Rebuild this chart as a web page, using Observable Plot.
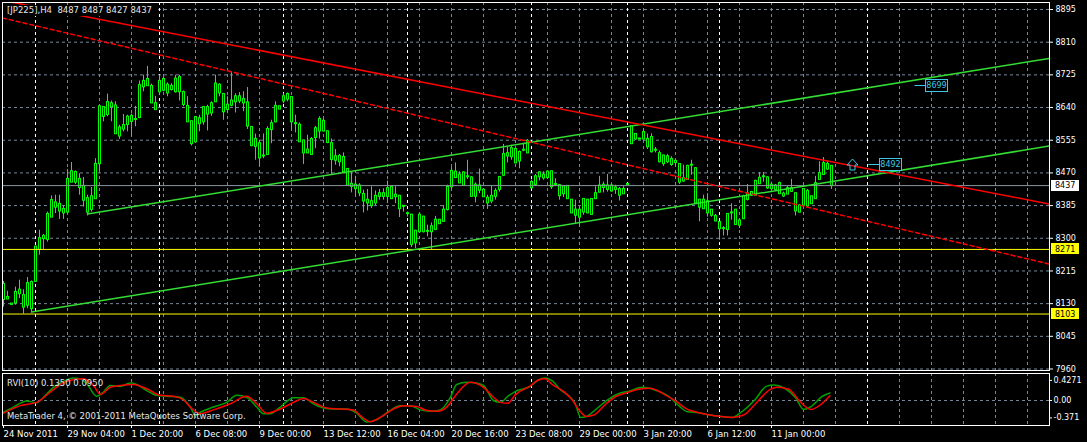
<!DOCTYPE html>
<html><head><meta charset="utf-8">
<script src="https://cdn.jsdelivr.net/npm/d3@7"></script>
<script src="https://cdn.jsdelivr.net/npm/@observablehq/plot@0.6"></script>
<style>
html,body{margin:0;padding:0;background:#000;}
#wrap{position:relative;width:1087px;height:442px;background:#000;overflow:hidden;font-family:"DejaVu Sans",sans-serif;}
#main{position:absolute;left:0;top:0;}
#sub{position:absolute;left:0;top:371px;}
.txt{position:absolute;color:#e6e6e6;font-size:8.5px;line-height:11px;white-space:pre;font-family:"DejaVu Sans",sans-serif;}
#title{left:3px;top:5px;height:11px;padding:0 3px 0 4px;background:#000;}
#rvi{left:7px;top:378px;}
#copy{left:7px;top:411px;}
</style></head>
<body><div id="wrap">
<div id="main"></div><div id="sub"></div>
<div id="title" class="txt"></div><div id="rvi" class="txt"></div><div id="copy" class="txt"></div>
</div>
<script>
// ---- data ----
const symbolTitle = "[JP225],H4  8487 8487 8427 8437";
const rviTitle = "RVI(10) 0.1350 0.0950";
const copyright = "MetaTrader 4, \u00A9 2001-2011 MetaQuotes Software Corp.";

const open = [
8180,8146,8129,8132,8156,8151,8126,8117,8188,8271,
8299,8297,8355,8392,8388,8375,8368,8446,8471,8453,
8435,8403,8375,8403,8494,8640,8622,8650,8644,8566,
8584,8596,8617,8609,8614,8694,8697,8695,8650,8681,
8685,8698,8687,8681,8718,8679,8643,8603,8551,8611,
8603,8640,8626,8655,8698,8674,8635,8646,8655,8668,
8652,8652,8588,8539,8546,8514,8518,8583,8603,8642,
8657,8662,8666,8598,8594,8553,8522,8518,8562,8579,
8604,8577,8546,8503,8513,8510,8479,8440,8438,8436,
8414,8399,8395,8392,8409,8416,8409,8432,8408,8409,
8383,8364,8360,8288,8317,8355,8318,8317,8323,8347,
8344,8375,8434,8472,8464,8438,8460,8457,8409,8436,
8425,8404,8397,8409,8427,8464,8514,8533,8496,8523,
8529,8522,8445,8440,8460,8464,8458,8473,8440,8437,
8416,8435,8399,8360,8373,8368,8399,8362,8403,8420,
8438,8427,8436,8427,8427,8416,8440,8546,8570,8558,
8558,8557,8562,8529,8520,8514,8499,8505,8500,8492,
8449,8453,8490,8481,8399,8377,8395,8373,8357,8341,
8325,8323,8366,8373,8334,8351,8415,8412,8412,8442,
8460,8457,8429,8436,8416,8415,8415,8429,8416,8368,
8386,8422,8390,8403,8453,8466,8492,8487];
const high = [
8188,8162,8130,8173,8191,8166,8198,8189,8279,8321,
8310,8368,8410,8412,8412,8385,8479,8497,8475,8468,
8458,8412,8432,8507,8643,8642,8675,8657,8655,8594,
8622,8620,8623,8643,8709,8724,8747,8701,8669,8724,
8720,8704,8702,8724,8724,8683,8668,8605,8616,8620,
8643,8646,8655,8724,8702,8676,8668,8733,8676,8679,
8681,8692,8590,8571,8555,8571,8590,8607,8655,8643,
8676,8678,8668,8620,8600,8553,8568,8562,8591,8616,
8611,8579,8558,8531,8518,8522,8481,8473,8461,8442,
8425,8427,8434,8423,8427,8429,8449,8434,8434,8412,
8384,8368,8362,8321,8362,8357,8334,8340,8357,8349,
8385,8438,8484,8496,8473,8473,8503,8460,8444,8480,
8427,8412,8435,8429,8460,8544,8536,8542,8533,8527,
8544,8557,8451,8466,8473,8473,8473,8473,8455,8440,
8435,8437,8401,8399,8381,8402,8401,8402,8434,8461,
8446,8466,8440,8438,8432,8434,8442,8591,8572,8560,
8585,8571,8572,8536,8527,8516,8518,8512,8503,8494,
8490,8490,8503,8484,8401,8412,8416,8375,8362,8343,
8330,8364,8390,8375,8351,8412,8440,8422,8451,8471,
8471,8460,8446,8440,8446,8420,8435,8453,8418,8388,
8429,8427,8409,8461,8499,8510,8499,8487];
const low = [
8121,8141,8127,8126,8143,8103,8117,8107,8186,8256,
8271,8290,8355,8364,8349,8349,8368,8446,8440,8412,
8381,8358,8368,8403,8474,8603,8616,8603,8571,8557,
8577,8577,8564,8590,8611,8681,8695,8652,8635,8672,
8681,8668,8683,8678,8657,8642,8603,8540,8549,8577,
8594,8579,8617,8655,8668,8607,8624,8642,8626,8650,
8629,8583,8538,8503,8487,8507,8516,8546,8600,8635,
8650,8655,8579,8574,8549,8492,8520,8516,8533,8558,
8577,8546,8466,8490,8486,8468,8436,8418,8408,8408,
8366,8371,8377,8384,8399,8399,8390,8401,8390,8354,
8368,8355,8276,8273,8314,8314,8304,8271,8321,8336,
8343,8371,8425,8455,8442,8435,8453,8408,8392,8416,
8406,8375,8390,8399,8420,8461,8496,8503,8494,8481,
8525,8520,8429,8435,8449,8451,8453,8427,8435,8399,
8406,8401,8364,8338,8330,8360,8364,8360,8401,8418,
8418,8420,8420,8414,8397,8414,8438,8545,8555,8557,
8555,8531,8522,8522,8496,8487,8494,8487,8486,8440,
8446,8451,8464,8390,8343,8375,8355,8355,8343,8295,
8306,8306,8347,8334,8325,8349,8397,8409,8409,8440,
8446,8427,8425,8425,8414,8406,8414,8420,8358,8366,
8381,8381,8388,8401,8451,8464,8477,8427];
const close = [
8141,8142,8128,8159,8165,8121,8182,8185,8277,8299,
8305,8362,8398,8381,8371,8366,8453,8473,8446,8432,
8399,8368,8408,8492,8642,8617,8653,8642,8572,8587,
8593,8615,8604,8609,8697,8708,8713,8652,8635,8708,
8713,8678,8695,8714,8681,8648,8603,8546,8614,8598,
8640,8623,8650,8701,8678,8629,8646,8657,8668,8657,
8661,8592,8541,8557,8509,8514,8583,8598,8643,8636,
8668,8674,8603,8598,8551,8522,8529,8557,8585,8609,
8579,8549,8505,8512,8499,8473,8438,8435,8429,8418,
8397,8392,8385,8409,8416,8409,8429,8403,8412,8377,
8383,8364,8284,8318,8360,8317,8318,8330,8347,8338,
8373,8432,8474,8458,8444,8470,8460,8409,8438,8425,
8408,8392,8409,8422,8458,8518,8520,8512,8531,8501,
8529,8552,8431,8460,8470,8457,8472,8434,8440,8411,
8434,8403,8366,8373,8355,8401,8366,8401,8416,8436,
8432,8436,8423,8431,8412,8427,8440,8590,8558,8558,
8575,8538,8525,8529,8499,8494,8512,8492,8497,8446,
8455,8487,8490,8392,8381,8399,8366,8360,8345,8325,
8325,8362,8366,8336,8345,8408,8401,8419,8448,8456,
8460,8431,8438,8427,8442,8410,8429,8422,8371,8384,
8427,8384,8408,8442,8468,8494,8480,8437];

const priceTicks = [8895,8810,8725,8640,8555,8470,8385,8300,8215,8130,8045,7960];
const dateBars = [0,16,32,48,64,80,96,112,128,144,160,176,192];
const dateLabels = ["24 Nov 2011","29 Nov 04:00","1 Dec 20:00","6 Dec 08:00","9 Dec 00:00","13 Dec 12:00","16 Dec 04:00","20 Dec 16:00","23 Dec 08:00","29 Dec 00:00","3 Jan 20:00","6 Jan 12:00","11 Jan 00:00"];
const gridBars = d3.range(8, 262, 8);
const separatorBars = [8,39,70,101,132,156,179,216];

const bidPrice = 8437;
const levelPrices = [8271, 8103];

// trend lines: [bar, price] anchors
const redSolid = [[0,8918],[261.5,8389]];
const redDashed = [[-0.25,8873],[261.5,8233]];
const greenUpper = [[21,8363],[261.5,8768]];
const greenLower = [[7,8108],[261.5,8540]];

// price label objects
const priceLabels = [{bar:216, price:8492, text:"8492"},{bar:227.5, price:8699, text:"8699"}];
const arrowMark = {bar:212, price:8492};

// RVI(10) main (green) and signal (red)
const rviGreen = [[0,-0.25],[2.5,-0.14],[5.8,-0.01],[8.3,-0.05],[10,0.07],[12.5,0.28],[15,0.41],[17.5,0.48],[19.2,0.46],[20.8,0.36],[23.3,0.09],[25,0.18],[26.7,0.32],[29.2,0.30],[31.7,0.37],[33.3,0.34],[35.8,0.21],[38.3,0.11],[40.8,0.09],[44.2,0.07],[46.7,-0.14],[48,-0.32],[49.2,-0.25],[52.5,-0.14],[55.8,-0.04],[58.3,0.11],[60.8,0.07],[63.3,-0.14],[65,-0.28],[66.7,-0.28],[69.2,-0.14],[72.5,0.06],[75,0.06],[77.5,-0.07],[80,-0.16],[82.5,-0.18],[85.8,-0.18],[88.3,-0.27],[90.8,-0.46],[93.3,-0.41],[96.7,-0.21],[99.2,-0.11],[101.7,-0.11],[104.2,-0.20],[106.7,-0.23],[109.2,-0.20],[111.7,0.06],[113.3,0.34],[115.8,0.39],[118.3,0.37],[120,0.32],[122.5,0.00],[124.2,-0.04],[126.1,0.09],[127.9,0.19],[131.7,0.30],[133.6,0.43],[135.4,0.48],[137.3,0.41],[139.2,0.23],[141,0.12],[142.9,-0.06],[144.3,-0.36],[145.7,-0.34],[148.5,-0.16],[151.3,0.03],[154.2,0.16],[156,0.19],[159.8,0.28],[162.6,0.23],[166.3,0.09],[169.1,-0.13],[171,-0.24],[173.8,-0.26],[176.6,-0.31],[179.4,-0.34],[182.2,-0.36],[184.1,-0.27],[187.8,0.01],[190.7,0.30],[192.5,0.33],[195.3,0.26],[198.1,0.05],[200,-0.19],[201.9,-0.13],[204.7,0.09],[206.6,0.16]];
const rviRed = [[0,-0.27],[4.2,-0.11],[8.3,-0.04],[11.7,0.18],[15.8,0.41],[20,0.46],[22.5,0.32],[24.2,0.13],[26.7,0.28],[29.2,0.32],[32.5,0.34],[35.8,0.25],[39.2,0.11],[42.5,0.09],[45,0.01],[46.7,-0.14],[49.2,-0.28],[52.5,-0.20],[56.7,-0.07],[60.8,0.09],[63.3,-0.07],[65.8,-0.27],[69.2,-0.18],[72.5,-0.04],[75,0.04],[77.5,-0.04],[80.8,-0.16],[84.2,-0.18],[87.5,-0.20],[89.2,-0.32],[91.7,-0.45],[94.2,-0.36],[97.5,-0.18],[100,-0.11],[103.3,-0.13],[105.8,-0.21],[108.3,-0.23],[110.8,-0.14],[113.3,0.14],[116.7,0.39],[120,0.28],[122.5,0.07],[124.2,-0.04],[126.1,-0.06],[127.9,0.12],[131.7,0.31],[133.6,0.43],[135.4,0.46],[137.3,0.33],[140.1,0.19],[142,0.03],[143.9,-0.20],[145.7,-0.34],[147.6,-0.31],[150.4,-0.09],[153.2,0.09],[156,0.17],[158.8,0.24],[161.6,0.26],[165.4,0.12],[168.2,-0.02],[171,-0.19],[172.9,-0.24],[176.6,-0.31],[179.4,-0.34],[182.2,-0.36],[185,-0.31],[187.8,-0.09],[191.6,0.23],[193.5,0.28],[196.3,0.24],[199.1,-0.02],[201.9,-0.19],[204.7,-0.06],[206.6,0.10]];
const rviTicks = [0.4271, 0, -0.371];
const rviTickLabels = ["0.4271", "0.00", "-0.371"];

// ---- drawing ----
const GRID = "#778899", CANDLE = "#00ff00", CH = "#33dd33", CYAN = "#3cc8e6";
const FONT = "DejaVu Sans";
const candles = open.map((o, i) => ({i, open: o, high: high[i], low: low[i], close: close[i]}));
const xDomain = [-0.25, 261.5];

const main = Plot.plot({
  width: 1087, height: 373,
  marginLeft: 2, marginRight: 38, marginTop: 2, marginBottom: 3,
  style: {background: "#000", color: "#fff", fontFamily: FONT, fontSize: "8px"},
  x: {domain: xDomain, axis: null},
  y: {domain: [7956.1, 8913.2]},
  marks: [
    Plot.ruleY(priceTicks, {stroke: GRID, strokeDasharray: "3,3"}),
    Plot.ruleX(gridBars, {stroke: GRID, strokeDasharray: "3,3"}),
    Plot.ruleX(separatorBars, {stroke: "#fff", strokeDasharray: "3,3"}),
    Plot.ruleX(candles, {x: "i", y1: "low", y2: "high", stroke: CANDLE}),
    // body outline (3px wide, lime) and 1px black centre
    Plot.rect(candles, {x1: d => d.i - 0.25, x2: d => d.i + 0.5, y1: "open", y2: "close",
      fill: CANDLE, insetTop: -1, insetBottom: -1}),
    Plot.rect(candles, {x1: d => d.i, x2: d => d.i + 0.25, y1: "open", y2: "close",
      fill: "#000", insetTop: 0, insetBottom: 0}),
    Plot.ruleY([bidPrice], {stroke: "#8a949e"}),
    Plot.ruleY(levelPrices, {stroke: "#ffff00"}),
    Plot.line(greenUpper, {x: d => d[0], y: d => d[1], stroke: CH, clip: true}),
    Plot.line(greenLower, {x: d => d[0], y: d => d[1], stroke: CH, clip: true}),
    Plot.line(redSolid, {x: d => d[0], y: d => d[1], stroke: "#ff0000", clip: true}),
    Plot.line(redDashed, {x: d => d[0], y: d => d[1], stroke: "#ff0000", strokeDasharray: "4,3", clip: true}),
    Plot.axisY(priceTicks, {anchor: "right", tickSize: 3, tickPadding: 3, tickFormat: d => String(d), label: null}),
    Plot.frame({stroke: "#fff"})
  ]
});
document.getElementById("main").appendChild(main);

// value boxes on the price axis and price-label objects
{
  const svg = d3.select(main);
  const xs = main.scale("x"), ys = main.scale("y");
  const yp = p => ys.apply(p) + 0.5;
  const xp = b => xs.apply(b) + 0.5;
  const boxes = [{p: bidPrice, c: "#fff"}, ...levelPrices.map(p => ({p, c: "#ffff00"}))];
  const g = svg.append("g").attr("font-family", FONT).attr("font-size", 8).attr("text-anchor", "start");
  boxes.forEach(b => {
    g.append("rect").attr("x", 1051).attr("y", Math.round(yp(b.p)) - 6).attr("width", 28).attr("height", 11).attr("fill", b.c);
    g.append("text").attr("x", 1055).attr("y", yp(b.p)).attr("dy", "0.35em").attr("text-anchor", "start").attr("fill", "#000").text(b.p);
  });
  priceLabels.forEach(l => {
    const x0 = Math.round(xp(l.bar)) + 0.5, y0 = Math.round(yp(l.price)) + 0.5;
    g.append("line").attr("x1", x0).attr("x2", x0 + 11).attr("y1", y0).attr("y2", y0).attr("stroke", CYAN);
    g.append("rect").attr("x", x0 + 11).attr("y", y0 - 6).attr("width", 22).attr("height", 12).attr("fill", "#000").attr("stroke", CYAN);
    g.append("text").attr("x", x0 + 22).attr("y", y0).attr("dy", "0.35em").attr("text-anchor", "middle").attr("fill", CYAN).text(l.text);
  });
  const ax = Math.round(xp(arrowMark.bar)) + 0.5, ay = Math.round(yp(arrowMark.price)) + 0.5;
  g.append("path").attr("transform", `translate(${ax},${ay})`)
    .attr("d", "M0,-5.5L5.5,0.5L2.5,0.5L2.5,5.5L-2.5,5.5L-2.5,0.5L-5.5,0.5Z")
    .attr("fill", "none").attr("stroke", CYAN);
}

const sub = Plot.plot({
  width: 1087, height: 71,
  marginLeft: 2, marginRight: 38, marginTop: 2, marginBottom: 17,
  style: {background: "transparent", color: "#fff", fontFamily: FONT, fontSize: "8px"},
  x: {domain: xDomain},
  y: {domain: [-0.532, 0.574]},
  marks: [
    Plot.ruleX(gridBars, {stroke: GRID, strokeDasharray: "3,3"}),
    Plot.ruleX(separatorBars, {stroke: "#fff", strokeDasharray: "3,3"}),
    Plot.ruleY([0], {stroke: GRID, strokeDasharray: "3,3"}),
    Plot.line(rviGreen, {x: d => d[0], y: d => d[1], stroke: "#00a000", curve: "monotone-x"}),
    Plot.line(rviRed, {x: d => d[0], y: d => d[1], stroke: "#ff0000", curve: "monotone-x"}),
    Plot.axisY(rviTicks, {anchor: "right", tickSize: 2, tickPadding: 2, tickFormat: (d, i) => rviTickLabels[i], label: null}),
    Plot.axisX(dateBars, {anchor: "bottom", tickSize: 3, tickPadding: 2, tickFormat: (d, i) => dateLabels[i], textAnchor: "start", dx: 0, fontSize: 8.5, label: null}),
    Plot.frame({stroke: "#fff"})
  ]
});
document.getElementById("sub").appendChild(sub);

document.getElementById("title").textContent = symbolTitle;
document.getElementById("rvi").textContent = rviTitle;
document.getElementById("copy").textContent = copyright;
</script>
</body></html>
